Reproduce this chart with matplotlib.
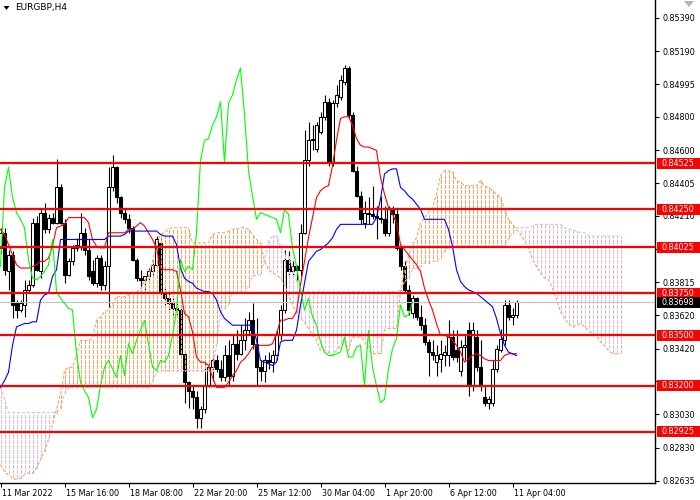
import matplotlib
matplotlib.use("Agg")
import matplotlib.pyplot as plt
import numpy as np
from matplotlib.transforms import blended_transform_factory, ScaledTranslation
from matplotlib.patches import Rectangle, Polygon
from matplotlib.collections import LineCollection

plt.rcParams['font.family'] = ['DejaVu Sans']
plt.rcParams['lines.scale_dashes'] = False

symbol = "EURGBP,H4"

open_ = [0.8402, 0.8411, 0.8388, 0.8398, 0.8369, 0.8365, 0.8368, 0.8377, 0.8380, 0.8417,
         0.8388, 0.8423, 0.8413, 0.8420, 0.8417, 0.8438, 0.8417, 0.8386, 0.8394, 0.8402,
         0.8403, 0.8411, 0.8401, 0.8388, 0.8381, 0.8396, 0.8380, 0.8391, 0.8438, 0.8450,
         0.8432, 0.8423, 0.8419, 0.8414, 0.8395, 0.8384, 0.8383, 0.8385, 0.8388, 0.8392,
         0.8405, 0.8376, 0.8372, 0.8369, 0.8366, 0.8365, 0.8339, 0.8322, 0.8317, 0.8313,
         0.8301, 0.8306, 0.8320, 0.8331, 0.8335, 0.8330, 0.8325, 0.8338, 0.8326, 0.8345,
         0.8339, 0.8347, 0.8353, 0.8359, 0.8345, 0.8331, 0.8329, 0.8335, 0.8334, 0.8338,
         0.8350, 0.8365, 0.8395, 0.8388, 0.8391, 0.8389, 0.8411, 0.8454, 0.8466, 0.8461,
         0.8471, 0.8480, 0.8489, 0.8453, 0.8488, 0.8492, 0.8501, 0.8509, 0.8481, 0.8448,
         0.8433, 0.8417, 0.8423, 0.8422, 0.8421, 0.8420, 0.8419, 0.8411, 0.8425, 0.8422,
         0.8402, 0.8391, 0.8377, 0.8363, 0.8372, 0.8361, 0.8356, 0.8346, 0.8340, 0.8334,
         0.8336, 0.8338, 0.8338, 0.8349, 0.8341, 0.8329, 0.8343, 0.8353, 0.8320, 0.8349,
         0.8331, 0.8313, 0.8310, 0.8310, 0.8330, 0.8341, 0.8347, 0.8368, 0.8361, 0.8362]

high = [0.8414, 0.8414, 0.8401, 0.8400, 0.8371, 0.8371, 0.8383, 0.8383, 0.8420, 0.8421,
        0.8426, 0.8429, 0.8422, 0.8423, 0.8455, 0.8440, 0.8419, 0.8396, 0.8404, 0.8408,
        0.8423, 0.8414, 0.8407, 0.8395, 0.8398, 0.8398, 0.8394, 0.8450, 0.8457, 0.8451,
        0.8433, 0.8425, 0.8422, 0.8415, 0.8396, 0.8389, 0.8385, 0.8390, 0.8395, 0.8409,
        0.8407, 0.8378, 0.8376, 0.8372, 0.8371, 0.8368, 0.8341, 0.8323, 0.8320, 0.8317,
        0.8308, 0.8334, 0.8335, 0.8338, 0.8338, 0.8335, 0.8344, 0.8347, 0.8350, 0.8353,
        0.8356, 0.8360, 0.8364, 0.8369, 0.8360, 0.8335, 0.8338, 0.8340, 0.8341, 0.8353,
        0.8368, 0.8401, 0.8400, 0.8394, 0.8392, 0.8416, 0.8472, 0.8477, 0.8475, 0.8477,
        0.8483, 0.8493, 0.8491, 0.8490, 0.8499, 0.8505, 0.8511, 0.8510, 0.8483, 0.8451,
        0.8436, 0.8430, 0.8432, 0.8439, 0.8427, 0.8433, 0.8427, 0.8427, 0.8427, 0.8425,
        0.8404, 0.8394, 0.8380, 0.8374, 0.8373, 0.8368, 0.8360, 0.8348, 0.8347, 0.8344,
        0.8347, 0.8344, 0.8359, 0.8353, 0.8353, 0.8347, 0.8350, 0.8358, 0.8358, 0.8353,
        0.8347, 0.8320, 0.8314, 0.8335, 0.8344, 0.8354, 0.8371, 0.8371, 0.8366, 0.8371]

low = [0.8399, 0.8386, 0.8377, 0.8360, 0.8360, 0.8364, 0.8361, 0.8376, 0.8379, 0.8388,
       0.8384, 0.8411, 0.8411, 0.8416, 0.8416, 0.8416, 0.8381, 0.8385, 0.8392, 0.8400,
       0.8401, 0.8398, 0.8383, 0.8380, 0.8379, 0.8377, 0.8377, 0.8367, 0.8436, 0.8429,
       0.8420, 0.8417, 0.8411, 0.8394, 0.8382, 0.8378, 0.8376, 0.8382, 0.8386, 0.8390,
       0.8374, 0.8368, 0.8365, 0.8362, 0.8360, 0.8338, 0.8310, 0.8307, 0.8306, 0.8295,
       0.8295, 0.8304, 0.8319, 0.8323, 0.8328, 0.8323, 0.8323, 0.8320, 0.8323, 0.8335,
       0.8338, 0.8341, 0.8350, 0.8342, 0.8320, 0.8323, 0.8322, 0.8330, 0.8328, 0.8335,
       0.8347, 0.8363, 0.8384, 0.8386, 0.8383, 0.8385, 0.8410, 0.8451, 0.8460, 0.8459,
       0.8470, 0.8478, 0.8451, 0.8451, 0.8486, 0.8490, 0.8499, 0.8479, 0.8447, 0.8432,
       0.8416, 0.8414, 0.8416, 0.8419, 0.8407, 0.8417, 0.8409, 0.8409, 0.8417, 0.8401,
       0.8389, 0.8376, 0.8362, 0.8360, 0.8359, 0.8353, 0.8344, 0.8326, 0.8335, 0.8326,
       0.8328, 0.8332, 0.8332, 0.8335, 0.8334, 0.8326, 0.8335, 0.8314, 0.8317, 0.8329,
       0.8317, 0.8308, 0.8306, 0.8308, 0.8328, 0.8340, 0.8344, 0.8359, 0.8356, 0.8360]

close = [0.8411, 0.8389, 0.8398, 0.8368, 0.8365, 0.8369, 0.8377, 0.8380, 0.8417, 0.8389,
         0.8423, 0.8413, 0.8420, 0.8417, 0.8438, 0.8417, 0.8386, 0.8394, 0.8402, 0.8404,
         0.8411, 0.8401, 0.8385, 0.8381, 0.8396, 0.8380, 0.8391, 0.8438, 0.8450, 0.8432,
         0.8423, 0.8419, 0.8414, 0.8395, 0.8384, 0.8383, 0.8385, 0.8388, 0.8392, 0.8407,
         0.8376, 0.8372, 0.8369, 0.8366, 0.8365, 0.8339, 0.8322, 0.8317, 0.8313, 0.8301,
         0.8306, 0.8320, 0.8331, 0.8335, 0.8330, 0.8325, 0.8338, 0.8326, 0.8345, 0.8339,
         0.8347, 0.8353, 0.8359, 0.8345, 0.8331, 0.8329, 0.8335, 0.8334, 0.8338, 0.8350,
         0.8365, 0.8395, 0.8388, 0.8391, 0.8389, 0.8411, 0.8454, 0.8466, 0.8467, 0.8475,
         0.8480, 0.8489, 0.8453, 0.8488, 0.8493, 0.8502, 0.8509, 0.8481, 0.8448, 0.8433,
         0.8419, 0.8423, 0.8422, 0.8421, 0.8420, 0.8419, 0.8411, 0.8425, 0.8422, 0.8402,
         0.8391, 0.8377, 0.8365, 0.8372, 0.8361, 0.8356, 0.8346, 0.8340, 0.8338, 0.8338,
         0.8339, 0.8340, 0.8349, 0.8337, 0.8337, 0.8343, 0.8344, 0.8320, 0.8353, 0.8331,
         0.8320, 0.8310, 0.8312, 0.8330, 0.8342, 0.8348, 0.8368, 0.8361, 0.8362, 0.83698]

tenkan = [0.8413, 0.8410, 0.8404, 0.8398, 0.8392, 0.8390, 0.8390, 0.8390, 0.8391, 0.8392,
          0.8394, 0.8394, 0.8396, 0.8403, 0.8414, 0.8415, 0.8416, 0.8420, 0.8420, 0.8420,
          0.8420, 0.8420, 0.8417, 0.8407, 0.8403, 0.8402, 0.8402, 0.8411, 0.8411, 0.8411,
          0.8411, 0.8411, 0.8413, 0.8413, 0.8415, 0.8417, 0.8415, 0.8411, 0.8407, 0.8402,
          0.8390, 0.8389, 0.8389, 0.8389, 0.8388, 0.8377, 0.8363, 0.8361, 0.8352, 0.8337,
          0.8334, 0.8334, 0.8332, 0.8325, 0.8319, 0.8319, 0.8319, 0.8322, 0.8326, 0.8329,
          0.8334, 0.8336, 0.8339, 0.8343, 0.8344, 0.8344, 0.8344, 0.8344, 0.8345, 0.8351,
          0.8359, 0.8359, 0.8360, 0.8360, 0.8364, 0.8380, 0.8394, 0.8408, 0.8420, 0.8432,
          0.8436, 0.8438, 0.8439, 0.8451, 0.8466, 0.8479, 0.8480, 0.8480, 0.8475, 0.8467,
          0.8463, 0.8462, 0.8462, 0.8461, 0.8460, 0.8444, 0.8434, 0.8426, 0.8422, 0.8417,
          0.8404, 0.8401, 0.8398, 0.8395, 0.8392, 0.8388, 0.8378, 0.8371, 0.8365, 0.8357,
          0.8350, 0.8350, 0.8349, 0.8347, 0.8344, 0.8340, 0.8334, 0.8336, 0.8338, 0.8339,
          0.8338, 0.8336, 0.8335, 0.8335, 0.8335, 0.8335, 0.8338, 0.8339, 0.8339, 0.8339]

kijun = [0.8319, 0.8323, 0.8328, 0.8344, 0.8355, 0.8356, 0.8357, 0.8357, 0.8358, 0.8358,
         0.8371, 0.8374, 0.8375, 0.8385, 0.8389, 0.8407, 0.8407, 0.8407, 0.8407, 0.8407,
         0.8407, 0.8407, 0.8407, 0.8407, 0.8407, 0.8407, 0.8407, 0.8409, 0.8409, 0.8409,
         0.8409, 0.8410, 0.8412, 0.8412, 0.8412, 0.8412, 0.8412, 0.8412, 0.8412, 0.8412,
         0.8410, 0.8409, 0.8409, 0.8409, 0.8404, 0.8390, 0.8384, 0.8382, 0.8381, 0.8378,
         0.8377, 0.8376, 0.8376, 0.8375, 0.8371, 0.8364, 0.8360, 0.8358, 0.8356, 0.8356,
         0.8356, 0.8356, 0.8356, 0.8356, 0.8347, 0.8335, 0.8334, 0.8333, 0.8332, 0.8334,
         0.8346, 0.8347, 0.8347, 0.8347, 0.8353, 0.8368, 0.8381, 0.8394, 0.8397, 0.8400,
         0.8401, 0.8403, 0.8405, 0.8408, 0.8413, 0.8416, 0.8416, 0.8416, 0.8416, 0.8416,
         0.8416, 0.8416, 0.8416, 0.8416, 0.8420, 0.8431, 0.8446, 0.8448, 0.8449, 0.8449,
         0.8438, 0.8436, 0.8433, 0.8431, 0.8428, 0.8425, 0.8419, 0.8419, 0.8419, 0.8419,
         0.8419, 0.8419, 0.8413, 0.8403, 0.8389, 0.8382, 0.8379, 0.8377, 0.8376, 0.8375,
         0.8373, 0.8371, 0.8369, 0.8367, 0.8360, 0.8351, 0.8344, 0.8340, 0.8339, 0.8338]

span_a = [0.8273, 0.8269, 0.8267, 0.8265, 0.8264, 0.8265, 0.8267, 0.8268, 0.8268, 0.8271,
          0.8276, 0.8281, 0.8288, 0.8297, 0.8306, 0.8315, 0.8329, 0.8331, 0.8331, 0.8338,
          0.8347, 0.8347, 0.8347, 0.8348, 0.8359, 0.8361, 0.8364, 0.8365, 0.8368, 0.8373,
          0.8373, 0.8373, 0.8374, 0.8375, 0.8376, 0.8377, 0.8383, 0.8385, 0.8394, 0.8404,
          0.8410, 0.8411, 0.8413, 0.8414, 0.8414, 0.8414, 0.8414, 0.8414, 0.8405, 0.8405,
          0.8405, 0.8405, 0.8405, 0.8410, 0.8411, 0.8411, 0.8411, 0.8412, 0.8413, 0.8413,
          0.8414, 0.8414, 0.8413, 0.8410, 0.8407, 0.8405, 0.8394, 0.8389, 0.8387, 0.8386,
          0.8384, 0.8380, 0.8374, 0.8368, 0.8362, 0.8360, 0.8358, 0.8354, 0.8350, 0.8347,
          0.8341, 0.8341, 0.8340, 0.8338, 0.8341, 0.8344, 0.8345, 0.8341, 0.8349, 0.8349,
          0.8349, 0.8347, 0.8341, 0.8339, 0.8339, 0.8339, 0.8353, 0.8354, 0.8354, 0.8354,
          0.8376, 0.8389, 0.8397, 0.8404, 0.8408, 0.8417, 0.8420, 0.8423, 0.8426, 0.8434,
          0.8445, 0.8448, 0.8448, 0.8447, 0.8442, 0.8441, 0.8439, 0.8439, 0.8439, 0.8439,
          0.8442, 0.8439, 0.8438, 0.8436, 0.8434, 0.8432, 0.8425, 0.8419, 0.8416, 0.8413,
          0.8410, 0.8406, 0.8402, 0.8395, 0.8391, 0.8387, 0.8384, 0.8383, 0.8378, 0.8371,
          0.8364, 0.8360, 0.8357, 0.8355, 0.8356, 0.8357, 0.8355, 0.8353, 0.8351, 0.8350,
          0.8346, 0.8344, 0.8341, 0.8339, 0.8339, 0.8339]

span_b = [0.8319, 0.8312, 0.8304, 0.8304, 0.8304, 0.8304, 0.8304, 0.8304, 0.8304, 0.8304,
          0.8304, 0.8304, 0.8304, 0.8304, 0.8304, 0.8307, 0.8315, 0.8319, 0.8319, 0.8319,
          0.8319, 0.8319, 0.8319, 0.8319, 0.8319, 0.8319, 0.8319, 0.8319, 0.8319, 0.8319,
          0.8319, 0.8319, 0.8319, 0.8319, 0.8319, 0.8319, 0.8319, 0.8319, 0.8323, 0.8328,
          0.8329, 0.8329, 0.8329, 0.8329, 0.8329, 0.8329, 0.8329, 0.8329, 0.8329, 0.8329,
          0.8329, 0.8329, 0.8329, 0.8329, 0.8344, 0.8364, 0.8366, 0.8368, 0.8375, 0.8375,
          0.8375, 0.8375, 0.8379, 0.8385, 0.8386, 0.8386, 0.8395, 0.8406, 0.8409, 0.8409,
          0.8403, 0.8399, 0.8397, 0.8390, 0.8382, 0.8376, 0.8376, 0.8376, 0.8376, 0.8376,
          0.8376, 0.8376, 0.8376, 0.8376, 0.8376, 0.8376, 0.8376, 0.8376, 0.8376, 0.8376,
          0.8376, 0.8376, 0.8376, 0.8376, 0.8376, 0.8376, 0.8376, 0.8376, 0.8376, 0.8376,
          0.8377, 0.8382, 0.8384, 0.8389, 0.8390, 0.8391, 0.8393, 0.8393, 0.8394, 0.8394,
          0.8396, 0.8400, 0.8402, 0.8403, 0.8403, 0.8403, 0.8403, 0.8403, 0.8403, 0.8403,
          0.8403, 0.8403, 0.8403, 0.8403, 0.8403, 0.8403, 0.8403, 0.8407, 0.8411, 0.8414,
          0.8414, 0.8414, 0.8414, 0.8415, 0.8416, 0.8416, 0.8416, 0.8416, 0.8416, 0.8416,
          0.8416, 0.8414, 0.8413, 0.8413, 0.8412, 0.8411, 0.8411, 0.8409, 0.8409, 0.8409,
          0.8409, 0.8409, 0.8409, 0.8409, 0.8409, 0.8409]

chikou_shift = 26
levels = [0.84525, 0.84250, 0.84025, 0.83750, 0.83500, 0.83200, 0.82925]
bid = 0.83698
price_ticks = [0.85390, 0.85190, 0.84995, 0.84800, 0.84600, 0.84405, 0.84210, 0.84015,
               0.83815, 0.83620, 0.83420, 0.83225, 0.83030, 0.82830, 0.82635]
hidden_ticks = [0.84015, 0.83225]   # covered by the level labels in the reference
time_labels = ["11 Mar 2022", "15 Mar 16:00", "18 Mar 08:00", "22 Mar 20:00",
               "25 Mar 12:00", "30 Mar 04:00", "1 Apr 20:00", "6 Apr 12:00", "11 Apr 04:00"]
time_label_step = 16

ORANGE = '#F4A460'
THISTLE = '#D8BFD8'

# ---------------- figure layout ----------------
W, H = 700, 500
PW, PH = 655, 483
fig = plt.figure(figsize=(W / 100, H / 100), dpi=100)
fig.patch.set_facecolor('white')
ax = fig.add_axes([0, (H - PH) / H, PW / W, PH / H])
ax.set_facecolor('white')
y_top, y_bot = 0.85495, 0.82621
ax.set_ylim(y_bot, y_top)
ax.set_xlim(-0.125, 163.625)
px = (y_top - y_bot) / PH

o = np.array(open_); hi = np.array(high); lo = np.array(low); c = np.array(close)
bars = np.arange(len(c))
up = c >= o

# candles
ax.vlines(bars, lo, hi, color='black', lw=0.8, zorder=2)
body_bottom = np.minimum(o, c)
body_h = np.maximum(np.abs(c - o), px * 0.6)
ax.bar(bars, body_h, bottom=body_bottom, width=0.66,
       color=np.where(up, 'white', 'black'), edgecolor='black', linewidth=0.75, zorder=2.1)

# cloud: MT4-style dotted vertical hatching, dashes aligned on a common pixel grid
sa = np.array(span_a); sb = np.array(span_b)
cbars = np.arange(len(sa))
bull = sa >= sb
DASH_ON, DASH_PERIOD = 3.0, 5.0   # pixels


def hatch_segments(xs, ylo, yhi):
    segs = []
    for xb, p_lo, p_hi in zip(xs, ylo, yhi):
        t0 = (y_top - p_hi) / px          # pixel row of the upper end
        t1 = (y_top - p_lo) / px          # pixel row of the lower end
        k = np.floor(t0 / DASH_PERIOD) * DASH_PERIOD
        while k < t1:
            s0, s1 = max(k, t0), min(k + DASH_ON, t1)
            if s1 > s0:
                segs.append([(xb, y_top - s0 * px), (xb, y_top - s1 * px)])
            k += DASH_PERIOD
    return segs


for mask, col in ((bull, ORANGE), (~bull, THISTLE)):
    segs = hatch_segments(cbars[mask], np.minimum(sa, sb)[mask], np.maximum(sa, sb)[mask])
    ax.add_collection(LineCollection(segs, colors=col, linewidths=0.72,
                                     antialiaseds=False, zorder=3))

DASH = (0, (2.2, 1.4))
ax.plot(cbars, sb, color=THISTLE, ls=DASH, lw=0.8, zorder=3.1)
ax.plot(cbars, sa, color=ORANGE, ls=DASH, lw=0.8, zorder=3.2)

# ichimoku lines
ax.plot(bars, tenkan, color='#FF0000', lw=0.8, zorder=4)
ax.plot(bars, kijun, color='#0000FF', lw=0.8, zorder=4)
ax.plot(bars[:len(c) - chikou_shift], c[chikou_shift:], color='#00FF00', lw=0.8, zorder=4)

# bid line
ax.axhline(bid, color='#C0C0C0', lw=0.8, zorder=2.5)

# level lines
for lv in levels:
    ax.axhline(lv, color='#FF0000', lw=1.6, zorder=6)

# spines / axes
for s in ['top', 'left']:
    ax.spines[s].set_visible(False)
for s in ['right', 'bottom']:
    ax.spines[s].set_color('black')
    ax.spines[s].set_linewidth(1.0)

ax.yaxis.tick_right()
ax.set_yticks(price_ticks)
ax.set_yticklabels(["" if p in hidden_ticks else f"{p:.5f}" for p in price_ticks])
ax.tick_params(axis='y', length=3, width=0.8, pad=2.2, labelsize=5.8, colors='black')

xt = np.arange(len(time_labels)) * time_label_step
ax.set_xticks(xt)
ax.set_xticklabels(time_labels, ha='left')
ax.tick_params(axis='x', length=3, width=0.8, pad=1.5, labelsize=5.8, colors='black')
off = ScaledTranslation(1 / 100, 0, fig.dpi_scale_trans)
for lab in ax.get_xticklabels():
    lab.set_transform(lab.get_transform() + off)

# price labels on right axis
trans = blended_transform_factory(fig.transFigure, ax.transData)
box_h = 11 * px
for lv in levels:
    ax.add_patch(Rectangle((657 / W, lv - box_h / 2), 43 / W, box_h, transform=trans,
                           facecolor='#FF0000', edgecolor='none', clip_on=False, zorder=10))
    ax.text(661.5 / W, lv, f"{lv:.5f}", transform=trans, ha='left', va='center',
            fontsize=5.8, color='white', zorder=11, clip_on=False)
ax.add_patch(Rectangle((657 / W, bid - box_h / 2), 43 / W, box_h, transform=trans,
                       facecolor='black', edgecolor='none', clip_on=False, zorder=10))
ax.text(661.5 / W, bid, f"{bid:.5f}", transform=trans, ha='left', va='center',
        fontsize=5.8, color='white', zorder=11, clip_on=False)

# title and markers
fig.text(15 / W, 1 - 7.5 / H, symbol, fontsize=6.5, ha='left', va='center', color='black')
fig.add_artist(Polygon([(3.5 / W, 1 - 6 / H), (9.5 / W, 1 - 6 / H), (6.5 / W, 1 - 10 / H)],
                       closed=True, transform=fig.transFigure, facecolor='black', edgecolor='none'))
fig.add_artist(Polygon([(684 / W, 1 - 1 / H), (694 / W, 1 - 1 / H), (689 / W, 1 - 7 / H)],
                       closed=True, transform=fig.transFigure, facecolor='#B4B4B4', edgecolor='none'))

fig.savefig('out.png', dpi=100, facecolor='white')
